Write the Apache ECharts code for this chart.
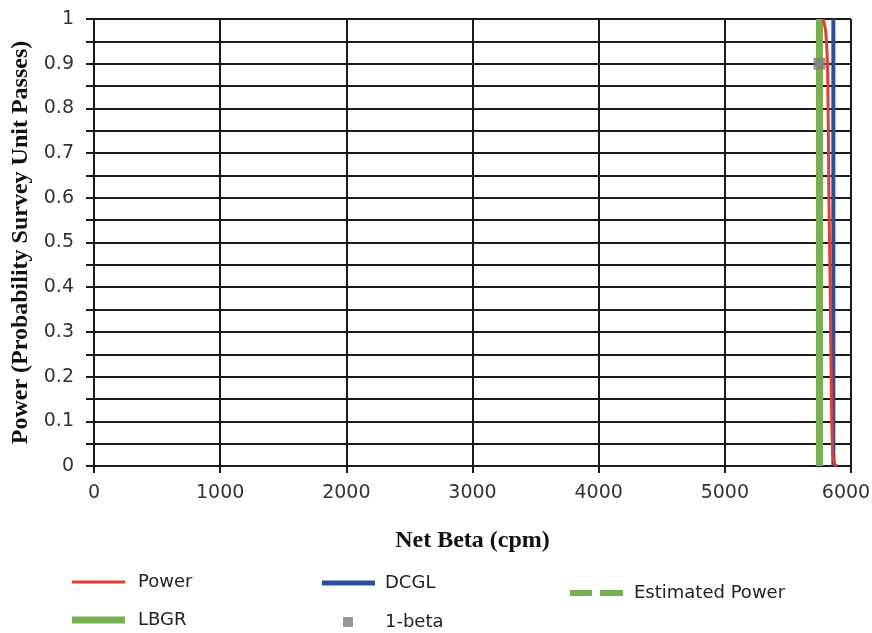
<!DOCTYPE html>
<html>
<head>
<meta charset="utf-8">
<script src="https://cdn.jsdelivr.net/npm/echarts@6/dist/echarts.min.js"></script>
<style>
  html, body { margin: 0; padding: 0; background: #fff; }
  #chart { width: 872px; height: 633px; }
</style>
</head>
<body>
<div id="chart"></div>
<script>
// Power curve: probability the survey unit passes vs. net beta count rate
const powerNetBeta = [5780, 5800, 5815, 5825, 5835, 5845, 5855, 5870, 5890];
const powerValues  = [1.0, 0.97, 0.88, 0.6, 0.4, 0.15, 0.03, 0.005, 0];

// Derived concentration guideline and lower bound of the gray region (cpm)
const dcglValue = 5860;
const lbgrValue = 5750;

// Estimated power follows the LBGR line
const estNetBeta = [5750, 5750];
const estValues  = [0, 1];

// 1-beta point
const oneBetaX = 5750;
const oneBetaY = 0.9;

const xTicks = [0, 1000, 2000, 3000, 4000, 5000, 6000];
const yLabelValues = [0, 0.1, 0.2, 0.3, 0.4, 0.5, 0.6, 0.7, 0.8, 0.9, 1];

const zip = (xs, ys) => xs.map((x, i) => [x, ys[i]]);

const RED = '#ee3a2c', BLUE = '#2c4f9a', GREEN = '#77b050', GRAY = '#7f7f7f';

const chart = echarts.init(document.getElementById('chart'), null, { renderer: 'canvas' });

const legendText = { fontFamily: 'DejaVu Sans', fontSize: 18, color: '#222' };
// place one legend entry so that its row is centred on centerY
function legendAt(item, left, centerY, h, textPad, extra) {
  return Object.assign({
    data: [item],
    left: left, top: centerY - 10,
    padding: 0,
    orient: 'horizontal',
    itemWidth: 53, itemHeight: h, itemGap: 0,
    textStyle: Object.assign({}, legendText, { padding: [0, 0, 0, textPad] }),
    selectedMode: false
  }, extra || {});
}

chart.setOption({
  backgroundColor: '#fff',
  animation: false,
  grid: { left: 94, right: 21, top: 19, bottom: 167, containLabel: false, outerBoundsMode: 'none' },
  xAxis: {
    type: 'value', min: 0, max: 6000, interval: 1000,
    name: 'Net Beta (cpm)', nameLocation: 'middle', nameGap: 63,
    nameTextStyle: { fontFamily: 'Liberation Serif', fontWeight: 'bold', fontSize: 24, color: '#111' },
    axisLine: { show: true, lineStyle: { color: '#1a1a1a', width: 2 } },
    axisTick: { show: true, length: 7, lineStyle: { color: '#1a1a1a', width: 2 } },
    axisLabel: { fontFamily: 'DejaVu Sans', fontSize: 19, color: '#333', margin: 18,
      formatter: v => !xTicks.includes(v) ? '' : (v === 6000 ? '{last|' + v + '}' : String(v)),
      rich: { last: { fontFamily: 'DejaVu Sans', fontSize: 19, color: '#333', padding: [0, 10, 0, 0] } } },
    splitLine: { show: true, lineStyle: { color: '#1a1a1a', width: 2 } }
  },
  yAxis: {
    type: 'value', min: 0, max: 1, interval: 0.05,
    name: 'Power (Probability Survey Unit Passes)', nameLocation: 'middle', nameGap: 60,
    nameTextStyle: { fontFamily: 'Liberation Serif', fontWeight: 'bold', fontSize: 24, color: '#111' },
    axisLine: { show: true, lineStyle: { color: '#1a1a1a', width: 2 } },
    axisTick: { show: true, length: 8, lineStyle: { color: '#1a1a1a', width: 2 } },
    axisLabel: { fontFamily: 'DejaVu Sans', fontSize: 19, color: '#333', margin: 20,
      formatter: v => {
        const r = Math.round(v * 10) / 10;
        return Math.abs(v - r) < 1e-6 && yLabelValues.includes(r) ? String(r) : '';
      } },
    splitLine: { show: true, lineStyle: { color: '#1a1a1a', width: 2 } }
  },
  legend: [
    legendAt({ name: 'Power', icon: 'rect', itemStyle: { color: RED } }, 72, 583, 3, 8),
    legendAt({ name: 'DCGL', icon: 'rect', itemStyle: { color: BLUE } }, 322, 584, 5, 5),
    legendAt({ name: 'Estimated Power', icon: 'path://M0,0H22V6H0Z M30,0H53V6H30Z', itemStyle: { color: GREEN } }, 570, 594, 6, 6),
    legendAt({ name: 'LBGR', icon: 'rect', itemStyle: { color: GREEN } }, 72, 621, 7, 8),
    legendAt({ name: '1-beta', icon: 'rect', itemStyle: { color: GRAY } }, 343, 623, 10, 27, { itemWidth: 10 })
  ],
  series: [
    {
      name: 'LBGR', type: 'line', symbol: 'none',
      data: [[lbgrValue, 0], [lbgrValue, 1]],
      lineStyle: { color: GREEN, width: 7 }, itemStyle: { color: GREEN }, z: 2
    },
    {
      name: 'Estimated Power', type: 'line', symbol: 'none',
      data: zip(estNetBeta, estValues),
      lineStyle: { color: GREEN, width: 6, type: [22, 8] }, itemStyle: { color: GREEN }, z: 2
    },
    {
      name: 'DCGL', type: 'line', symbol: 'none',
      data: [[dcglValue, 0], [dcglValue, 1]],
      lineStyle: { color: BLUE, width: 4 }, itemStyle: { color: BLUE }, z: 3
    },
    {
      name: 'Power', type: 'line', symbol: 'none', smooth: 0.3,
      data: zip(powerNetBeta, powerValues),
      lineStyle: { color: RED, width: 3 }, itemStyle: { color: RED }, z: 4
    },
    {
      name: '1-beta', type: 'scatter', symbol: 'rect', symbolSize: 12,
      data: [[oneBetaX, oneBetaY]],
      itemStyle: { color: GRAY }, z: 5
    }
  ]
});
</script>
</body>
</html>
